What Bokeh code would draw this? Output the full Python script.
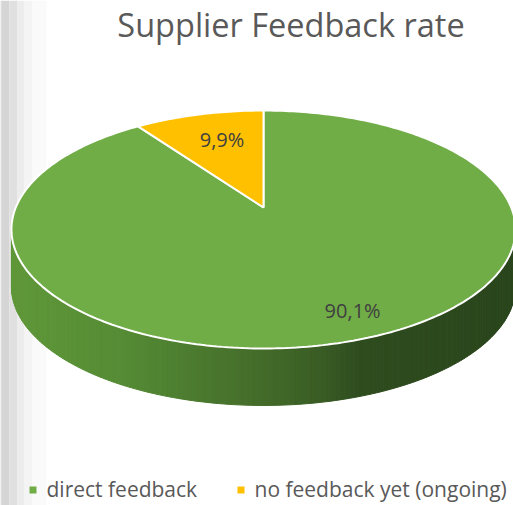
import math
import numpy as np
from bokeh.plotting import figure
from bokeh.models import Range1d
from bokeh.core.properties import value
from bokeh.embed import file_html
from bokeh.resources import INLINE

# ---- data ----
categories = ["direct feedback", "no feedback yet (ongoing)"]
shares = [90.1, 9.9]
labels = ["90,1%", "9,9%"]
title_text = "Supplier Feedback rate"

# ---- style ----
top_colors = ["#70ad47", "#ffc000"]
label_radius = [0.83, 0.69]
label_angle_shift = [4.0, -2.0]
FONT = "Open Sans"

CX, CY = 263.0, 207.0      # projected pie centre (px)
A, B, K = 247.7, 114.9, 0.1849   # perspective ellipse params
DEPTH = 57.0

W, H = 513, 505
p = figure(width=W, height=H, output_backend="svg", toolbar_location=None,
           x_range=Range1d(0, W), y_range=Range1d(H, 0),
           x_axis_location=None, y_axis_location=None, min_border=0)
p.grid.visible = False
p.outline_line_color = None
p.background_fill_color = "white"


def proj(t, r=1.0):
    u = r * np.cos(t)
    v = r * np.sin(t)
    w = 1 + K * v
    return CX + A * u / w, CY - B * v / w

# left grey strip (window edge)
strip_x = [(0, 1), (1, 9), (9, 17), (17, 24), (24, 32), (32, 46)]
strip_c = ["#c8c8c8", "#d5d5d5", "#e0e0e0", "#ececec", "#f4f4f4", "#fafafa"]
p.quad(left=[s[0] for s in strip_x], right=[s[1] for s in strip_x],
       bottom=[H] * len(strip_x), top=[0] * len(strip_x),
       fill_color=strip_c, line_color=None)

# ---- side wall (front) ----
t0 = math.pi + math.asin(K)
t1 = 2 * math.pi - math.asin(K)
N = 160
ts = np.linspace(t0, t1, N + 1)
stops_x = [10, 120, 200, 260, 320, 360, 520]
stops_c = [(96, 152, 58), (86, 140, 53), (75, 122, 47), (68, 108, 42),
           (58, 93, 37), (47, 77, 31), (42, 69, 28)]


def side_color(x):
    r = np.interp(x, stops_x, [c[0] for c in stops_c])
    g = np.interp(x, stops_x, [c[1] for c in stops_c])
    b = np.interp(x, stops_x, [c[2] for c in stops_c])
    return "#%02x%02x%02x" % (int(r), int(g), int(b))

xs_side, ys_side, cs_side = [], [], []
for i in range(N):
    xa, ya = proj(ts[i])
    xb, yb = proj(ts[i + 1])
    xs_side.append([xa, xb, xb, xa])
    ys_side.append([ya, yb, yb + DEPTH, ya + DEPTH])
    cs_side.append(side_color((xa + xb) / 2))
p.patches(xs_side, ys_side, fill_color=cs_side, line_color=cs_side, line_width=1)

# ---- top slices ----
total = sum(shares)
start = math.pi / 2
bounds = []
for s in shares:
    end = start - 2 * math.pi * s / total
    bounds.append((start, end))
    start = end

xs_top, ys_top = [], []
for (a0, a1) in bounds:
    n = max(4, int(abs(a0 - a1) / (2 * math.pi) * 360))
    tt = np.linspace(a0, a1, n)
    x, y = proj(tt)
    xs_top.append([CX] + list(x) + [CX])
    ys_top.append([CY] + list(y) + [CY])
p.patches(xs_top, ys_top, fill_color=top_colors, line_color="white", line_width=2)

# ---- data labels ----
lx, ly = [], []
for (a0, a1), rr, sh in zip(bounds, label_radius, label_angle_shift):
    mid = (a0 + a1) / 2 + math.radians(sh)
    x, y = proj(np.array([mid]), rr)
    lx.append(float(x[0]))
    ly.append(float(y[0]))
p.text(x=lx, y=ly, text=labels, text_align="center", text_baseline="middle",
       text_font=value(FONT), text_font_size="20px", text_color="#404040")

# ---- title ----
p.text(x=[290.5], y=[23.5], text=[title_text], text_align="center",
       text_baseline="middle", text_font=value(FONT),
       text_font_size="32.5px", text_color="#595959")

# ---- legend ----
leg_x = [32.5, 240.5]
p.rect(x=leg_x, y=[489.5, 489.5], width=7, height=7,
       fill_color=top_colors, line_color=None)
p.text(x=[x + 13.5 for x in leg_x], y=[488, 488], text=categories,
       text_align="left", text_baseline="middle", text_font=value(FONT),
       text_font_size="21px", text_color="#595959")

open("out.html", "w").write(file_html(p, INLINE))
